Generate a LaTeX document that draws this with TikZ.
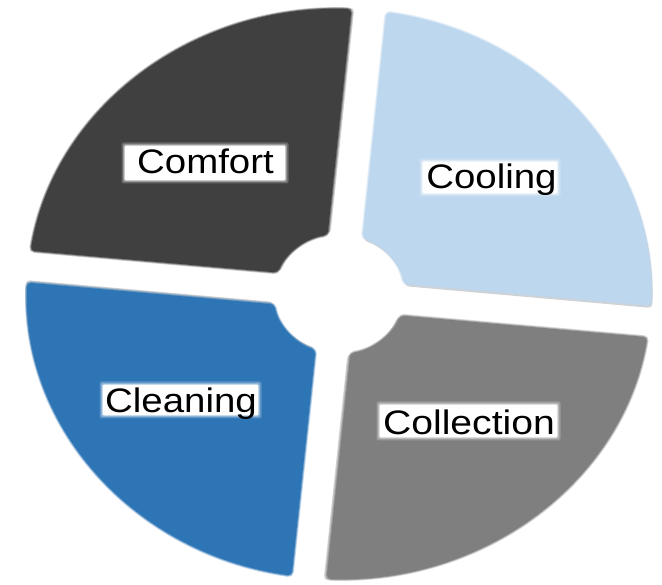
\documentclass[tikz,border=0pt]{standalone}
\usepackage{graphicx}
\usepackage{fontspec}
\setmainfont{Liberation Sans}
\definecolor{cComfort}{HTML}{404040}
\definecolor{cCooling}{HTML}{BDD7EE}
\definecolor{cCleaning}{HTML}{2E75B6}
\definecolor{cCollection}{HTML}{7F7F7F}
\newcommand\quadpath{({acos(16/285)}:285) arc[start angle={acos(16/285)}, end angle={asin(16/285)}, radius=285] -- ({asin(16/60)}:60) arc[start angle={asin(16/60)}, end angle={acos(16/60)}, radius=60] -- cycle}
\newcommand\segment[2]{%
  \begin{scope}[rotate=#1]
    \fill[black, opacity=0.18, rounded corners=4pt, shift={(1.5,-2.5)}] \quadpath;
    \draw[draw=#2, draw opacity=0.3, line width=3.5pt, rounded corners=4pt] \quadpath;
    \draw[draw=#2, draw opacity=0.5, line width=1.8pt, fill=#2, rounded corners=4pt] \quadpath;
  \end{scope}}
\newcommand\glowbox[4]{%
  \foreach \e/\o in {3.5/0.22,2/0.32,0.8/0.5}{\fill[white,opacity=\o,rounded corners=2pt] (#1-\e,#2-\e) rectangle (#3+\e,#4+\e);}
  \fill[white] (#1,#2) rectangle (#3,#4);}
\tikzset{lbl/.style={font=\fontsize{34}{40}\selectfont, anchor=base, inner sep=0pt, text=black}}
\begin{document}
\begin{tikzpicture}[x=1pt, y=-1pt]
\useasboundingbox (0,0) rectangle (662,585);
\begin{scope}[shift={(339,294)}, xscale=1.095, rotate=-5.5, y=1pt]
  \segment{0}{cCooling}
  \segment{90}{cComfort}
  \segment{180}{cCleaning}
  \segment{270}{cCollection}
\end{scope}
\glowbox{125}{146}{285}{180}
\glowbox{423}{162}{557}{193}
\glowbox{103}{385}{258}{415}
\glowbox{380}{405}{557}{437}
\node[lbl] (comfort) at (205.5,174) {\scalebox{1.13}[1]{Comfort}};
\node[lbl] (cooling) at (491.5,189) {\scalebox{1.13}[1]{Cooling}};
\node[lbl] (cleaning) at (181,413) {\scalebox{1.13}[1]{Cleaning}};
\node[lbl] (collection) at (469,435) {\scalebox{1.15}[1]{Collection}};
\end{tikzpicture}
\end{document}
